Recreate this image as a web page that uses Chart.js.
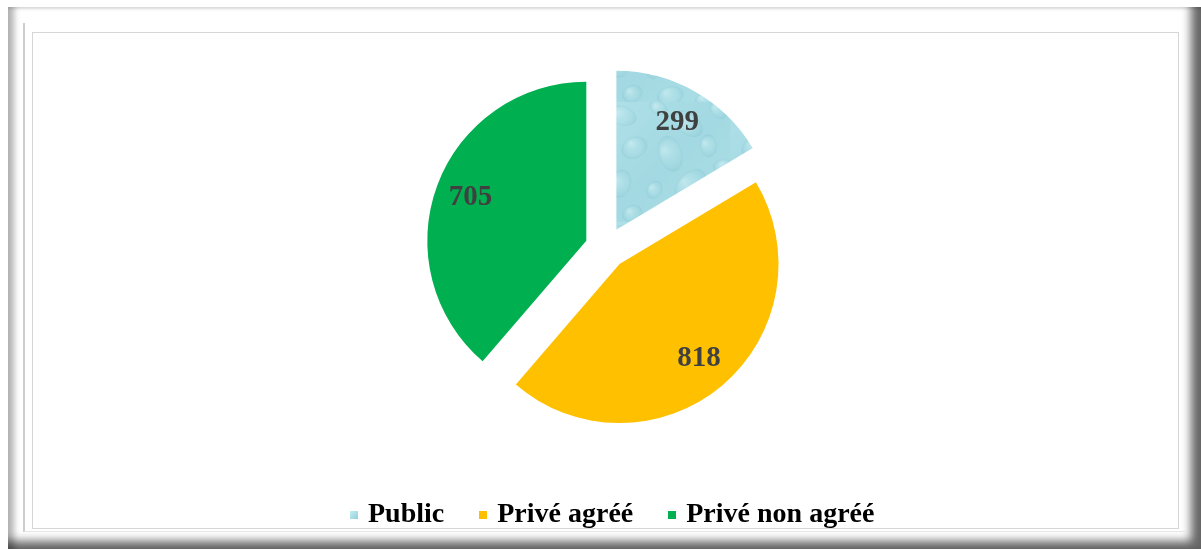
<!DOCTYPE html>
<html lang="fr">

<head>
    <meta charset="UTF-8">
    <meta name="viewport" content="width=device-width, initial-scale=1.0">
    <title>Établissements par statut</title>
    <style>
        html, body {
            margin: 0;
            padding: 0;
            background: #fff;
        }

        body {
            position: relative;
            width: 1201px;
            height: 549px;
            overflow: hidden;
            font-family: "Liberation Serif", "Times New Roman", serif;
        }

        .frame {
            position: absolute;
            left: 8px;
            top: 7px;
            width: 1193px;
            height: 542px;
            box-shadow: inset 9px 0 6px -3px rgba(0, 0, 0, 0.3),
                        inset 0 3px 3px -1px rgba(0, 0, 0, 0.12),
                        inset -14px -12px 10px -4px rgba(0, 0, 0, 0.6);
        }

        .groove {
            position: absolute;
            left: 23px;
            top: 23px;
            width: 1162px;
            height: 508px;
            border-left: 2px solid #cdcdcd;
            border-bottom: 1px solid #e6e6e6;
        }

        .plot {
            position: absolute;
            left: 32px;
            top: 32px;
            width: 1145px;
            height: 495px;
            border: 1px solid #d6d6d6;
        }

        .chart-container {
            position: absolute;
            left: 0;
            top: 0;
            width: 1201px;
            height: 549px;
        }

        .legend {
            position: absolute;
            left: 350px;
            top: 499px;
            display: flex;
            font-size: 28px;
            font-weight: bold;
            line-height: 28px;
            color: #000;
            white-space: nowrap;
        }

        .legend-item {
            display: flex;
            align-items: baseline;
            margin-right: 35px;
        }

        .legend-box {
            display: inline-block;
            width: 8px;
            height: 8px;
            margin-right: 10px;
            position: relative;
            top: -3px;
        }
    </style>
</head>

<body>
    <div class="frame"></div>
    <div class="groove"></div>
    <div class="plot"></div>
    <div class="chart-container">
        <canvas id="pie-chart"></canvas>
    </div>
    <div class="legend" id="legend"></div>

    <script src="https://cdn.jsdelivr.net/npm/chart.js"></script>
    <script>
    const categories = ['Public', 'Privé agréé', 'Privé non agréé'];
    const counts = [299, 818, 705];
    const sliceColors = ['#a9dde5', '#ffc000', '#00b050'];

    const explodeBy = 21;
    const labelRatio = 0.777;

    // water-drop tile used for the "Public" slice
    const dropSpots = [
        [12, 14, 14, 9], [48, 6, 9, 6], [78, 22, 16, 10], [108, 8, 10, 7],
        [24, 46, 10, 13], [60, 52, 18, 11], [98, 44, 11, 8], [114, 66, 8, 11],
        [10, 82, 14, 10], [44, 88, 9, 7], [80, 84, 19, 12], [110, 100, 12, 8],
        [22, 112, 10, 8], [60, 114, 13, 9], [94, 118, 9, 6]
    ];

    function makeDropPattern(ctx) {
        const tile = document.createElement('canvas');
        tile.width = 120;
        tile.height = 120;
        const t = tile.getContext('2d');
        const base = t.createLinearGradient(0, 0, 120, 120);
        base.addColorStop(0, '#afe0e8');
        base.addColorStop(0.5, '#a3d9e2');
        base.addColorStop(1, '#ade0e7');
        t.fillStyle = base;
        t.fillRect(0, 0, 120, 120);
        dropSpots.forEach(([x, y, rx, ry], i) => {
            const g = t.createRadialGradient(x - rx * 0.35, y - ry * 0.35, 1, x, y, Math.max(rx, ry));
            g.addColorStop(0, 'rgba(214, 242, 246, 0.55)');
            g.addColorStop(0.55, 'rgba(185, 228, 235, 0.25)');
            g.addColorStop(1, 'rgba(130, 196, 208, 0.3)');
            t.fillStyle = g;
            t.beginPath();
            t.ellipse(x, y, rx, ry, 0.3 + i * 0.2, 0, Math.PI * 2);
            t.fill();
            t.strokeStyle = 'rgba(125, 190, 203, 0.25)';
            t.lineWidth = 1;
            t.stroke();
        });
        return ctx.createPattern(tile, 'repeat');
    }

    const explodePlugin = {
        id: 'explodeSlices',
        beforeDatasetDraw(chart, args) {
            const ctx = chart.ctx;
            args.meta.data.forEach(arc => {
                const mid = (arc.startAngle + arc.endAngle) / 2;
                ctx.save();
                ctx.translate(Math.cos(mid) * explodeBy, Math.sin(mid) * explodeBy);
                arc.draw(ctx);
                ctx.restore();
            });
            return false;
        },
        afterDatasetsDraw(chart) {
            const ctx = chart.ctx;
            const meta = chart.getDatasetMeta(0);
            ctx.save();
            ctx.font = 'bold 29px "Liberation Serif", "Times New Roman", serif';
            ctx.fillStyle = '#404040';
            ctx.textAlign = 'center';
            ctx.textBaseline = 'middle';
            meta.data.forEach((arc, i) => {
                const mid = (arc.startAngle + arc.endAngle) / 2;
                const dist = explodeBy + arc.outerRadius * labelRatio;
                ctx.fillText(String(counts[i]), arc.x + Math.cos(mid) * dist, arc.y + Math.sin(mid) * dist);
            });
            ctx.restore();
        }
    };

    const canvas = document.getElementById('pie-chart');
    const ctx = canvas.getContext('2d');
    const colors = sliceColors.slice();
    colors[0] = makeDropPattern(ctx);

    new Chart(ctx, {
        type: 'pie',
        data: {
            labels: categories,
            datasets: [{
                data: counts,
                backgroundColor: colors,
                borderWidth: 0
            }]
        },
        options: {
            responsive: true,
            maintainAspectRatio: false,
            animation: false,
            radius: 159,
            layout: {
                padding: { left: 11, right: 0, top: 0, bottom: 53 }
            },
            plugins: {
                legend: { display: false },
                tooltip: { enabled: false }
            }
        },
        plugins: [explodePlugin]
    });

    // legend below the pie
    const legend = document.getElementById('legend');
    categories.forEach((name, i) => {
        const item = document.createElement('div');
        item.className = 'legend-item';
        const box = document.createElement('span');
        box.className = 'legend-box';
        box.style.background = i === 0
            ? 'linear-gradient(135deg, #c6edf2, #8fd0dc)'
            : sliceColors[i];
        item.appendChild(box);
        item.appendChild(document.createTextNode(name));
        legend.appendChild(item);
    });
    </script>
</body>

</html>
